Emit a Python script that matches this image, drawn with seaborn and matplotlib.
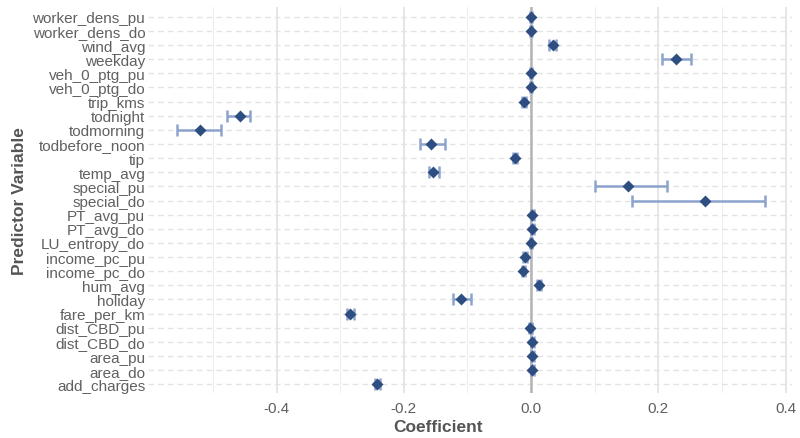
import numpy as np
import pandas as pd
import matplotlib
matplotlib.use("Agg")
import matplotlib.pyplot as plt
import seaborn as sns

variables = ["worker_dens_pu", "worker_dens_do", "wind_avg", "weekday", "veh_0_ptg_pu",
             "veh_0_ptg_do", "trip_kms", "todnight", "todmorning", "todbefore_noon", "tip",
             "temp_avg", "special_pu", "special_do", "PT_avg_pu", "PT_avg_do", "LU_entropy_do",
             "income_pc_pu", "income_pc_do", "hum_avg", "holiday", "fare_per_km",
             "dist_CBD_pu", "dist_CBD_do", "area_pu", "area_do", "add_charges"]
coef = [0.000, 0.000, 0.034, 0.228, 0.000, 0.000, -0.011, -0.458, -0.521, -0.158, -0.025,
        -0.154, 0.153, 0.273, 0.002, 0.002, 0.000, -0.009, -0.0125, 0.013, -0.110, -0.284,
        -0.001, 0.002, 0.002, 0.002, -0.242]
ci_low = [-0.002, -0.002, 0.028, 0.205, -0.002, -0.002, -0.014, -0.478, -0.556, -0.175, -0.028,
          -0.161, 0.101, 0.159, 0.000, 0.000, -0.002, -0.012, -0.015, 0.010, -0.123, -0.290,
          -0.003, 0.000, 0.000, 0.000, -0.246]
ci_high = [0.002, 0.002, 0.039, 0.252, 0.002, 0.002, -0.008, -0.441, -0.487, -0.135, -0.022,
           -0.145, 0.214, 0.368, 0.004, 0.004, 0.002, -0.006, -0.010, 0.016, -0.094, -0.279,
           0.001, 0.004, 0.004, 0.004, -0.238]
x_ticks = [-0.4, -0.2, 0.0, 0.2, 0.4]
x_minor = [-0.5, -0.3, -0.1, 0.1, 0.3]

df = pd.DataFrame({"variable": variables, "coef": coef, "low": ci_low, "high": ci_high})

sns.set_theme(style="white")
plt.rcParams["font.family"] = ["Liberation Sans", "DejaVu Sans"]

fig, ax = plt.subplots(figsize=(8, 4.39), dpi=100)
fig.subplots_adjust(left=0.185, right=0.99, top=0.982, bottom=0.103)

pos = np.arange(len(variables))
# grid
for t in x_minor:
    ax.axvline(t, color="#eeeeee", lw=0.8, zorder=0)
for t in x_ticks:
    ax.axvline(t, color="#e6e6e6", lw=1.4, zorder=0)
for p in pos:
    ax.axhline(p, color="#e3e3e3", lw=1.0, ls=(0, (4, 3)), zorder=0)
ax.axvline(0, color="#b5b5b5", lw=1.8, zorder=1)

xerr = np.vstack([df["coef"] - df["low"], df["high"] - df["coef"]])
ax.errorbar(df["coef"], pos, xerr=xerr, fmt="none", ecolor="#8ca3cd", elinewidth=1.8,
            capsize=4.5, capthick=1.8, zorder=2)

sns.pointplot(data=df, x="coef", y="variable", order=variables, linestyle="none",
              markers="D", color="#2e4d80", errorbar=None, markersize=3.8, ax=ax, zorder=3)

ax.set_xlim(-0.602, 0.41)
ax.set_ylim(len(variables) - 0.4, -0.7)
ax.set_xticks(x_ticks)
ax.set_xticklabels([f"{t:.1f}" for t in x_ticks])
ax.tick_params(axis="both", length=0, labelsize=11, labelcolor="#606060", pad=2)
ax.tick_params(axis="x", pad=6)
for s in ax.spines.values():
    s.set_visible(False)
ax.grid(False)
ax.set_xlabel("Coefficient", fontsize=12.5, fontweight="bold", color="#555555")
ax.xaxis.set_label_coords((438 - 148) / 644, -0.068)
ax.set_ylabel("Predictor Variable", fontsize=12.5, fontweight="bold", color="#555555", labelpad=4)

fig.savefig("out.png", dpi=100)
